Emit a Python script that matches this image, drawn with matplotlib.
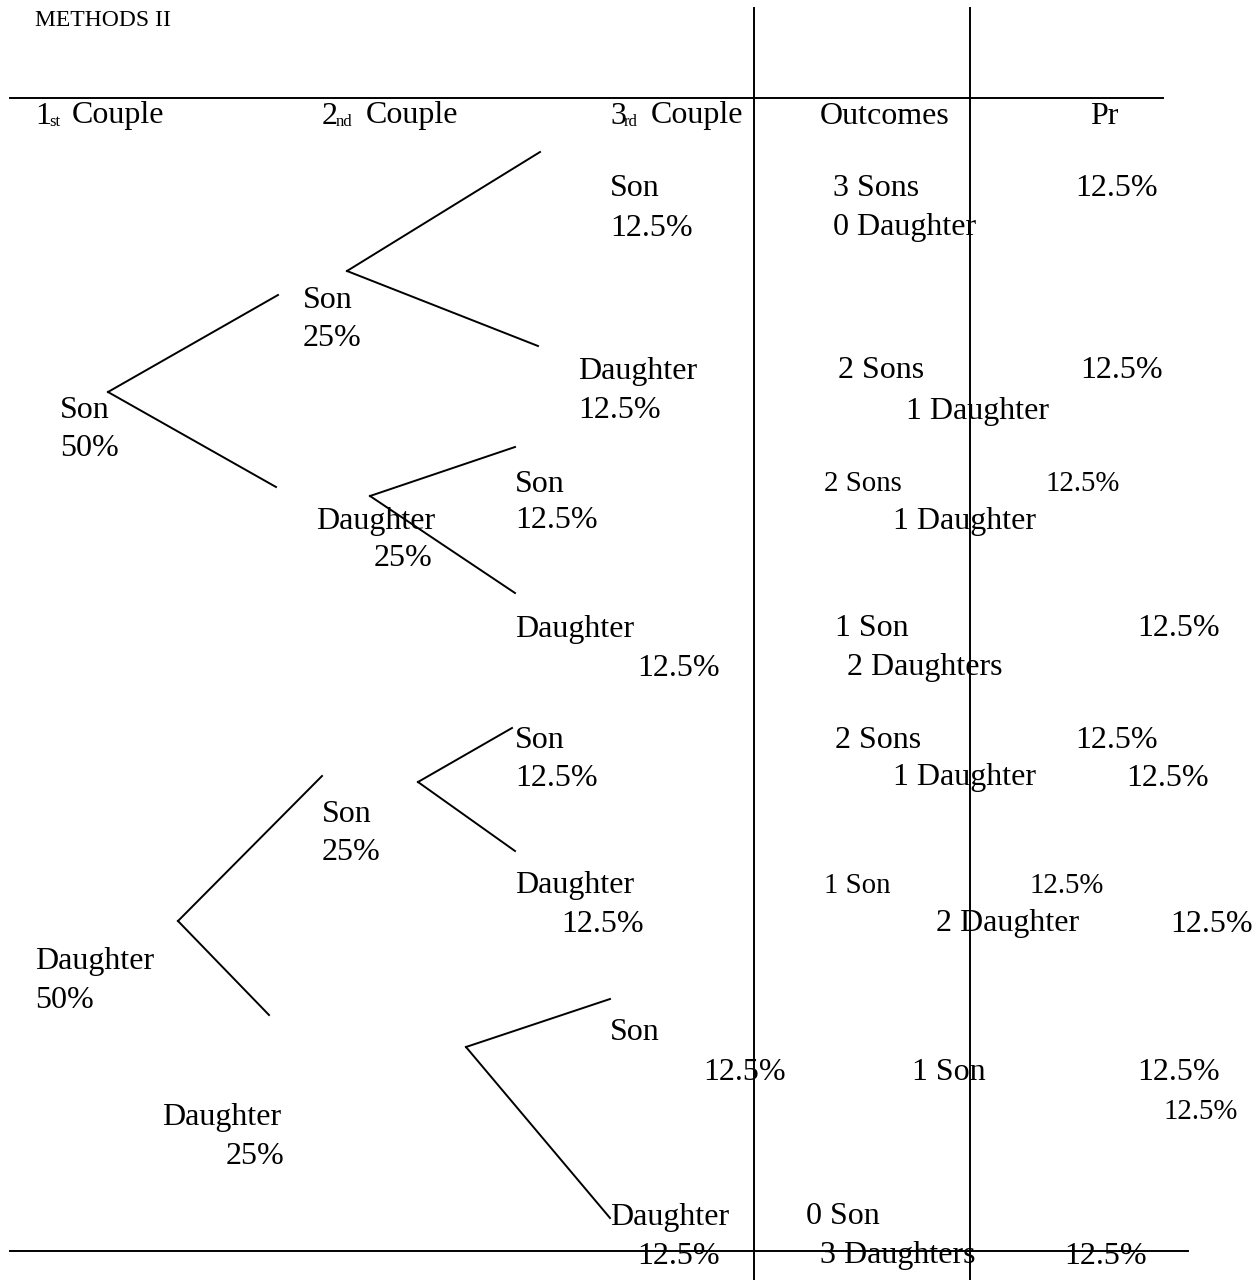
import matplotlib.pyplot as plt

#---------------------------------------------------------------------------------------------
# DATOS DEL DIAGRAMA DE ÁRBOL

titulo = "METHODS II"

encabezados = ["Couple", "Couple", "Couple", "Outcomes", "Pr"]
encabezados_num = ["1", "2", "3"]
encabezados_sup = ["st", "nd", "rd"]

# Primer nivel (1st Couple)
nivel1_etiquetas = ["Son", "Daughter"]
nivel1_prob = ["50%", "50%"]

# Segundo nivel (2nd Couple)
nivel2_etiquetas = ["Son", "Daughter", "Son", "Daughter"]
nivel2_prob = ["25%", "25%", "25%", "25%"]

# Tercer nivel (3rd Couple)
nivel3_etiquetas = ["Son", "Daughter", "Son", "Daughter", "Son", "Daughter", "Son", "Daughter"]
nivel3_prob = ["12.5%"] * 8

# Resultados
resultados_hijos = ["3 Sons", "2 Sons", "2 Sons", "1 Son", "2 Sons", "1 Son", "1 Son", "0 Son"]
resultados_hijas = ["0 Daughter", "1 Daughter", "1 Daughter", "2 Daughters", "1 Daughter",
                    "2 Daughter", None, "3 Daughters"]
probabilidades = ["12.5%", "12.5%", "12.5%", "12.5%", "12.5%", "12.5%", "12.5%", "12.5%"]
prob_extra = ["12.5%", "12.5%", "12.5%"]  # valores repetidos en la columna Pr

#---------------------------------------------------------------------------------------------
# POSICIONES (coordenadas en píxeles de la página)

pos_encabezados = [(72, 113), (366, 113), (651, 113), (820, 113), (1090, 113)]
pos_encabezados_num = [(35, 113), (322, 113), (610, 113)]

pos_nivel1 = [(60, 408, 446, 60), (35, 958, 997, 35)]
pos_nivel2 = [(303, 297, 335, 303), (316, 518, 556, 374),
              (322, 811, 850, 322), (162, 1114, 1153, 226)]
pos_nivel3 = [(610, 186, 225, 610), (578, 368, 408, 578), (515, 481, 518, 515),
              (515, 626, 665, 637), (515, 737, 775, 515), (515, 882, 921, 561),
              (610, 1029, 1070, 703), (610, 1214, 1253, 637)]

pos_hijos = [(833, 186), (838, 368), (824, 481), (835, 626), (835, 737), (824, 883),
             (912, 1070), (806, 1214)]
pos_hijas = [(833, 225), (906, 408), (893, 518), (847, 665), (893, 775), (936, 921),
             None, (820, 1253)]
pos_prob = [(1075, 186), (1080, 368), (1045, 481), (1137, 626), (1075, 737), (1030, 883),
            (1137, 1070), (1064, 1253)]
pos_prob_extra = [(1126, 775), (1170, 921), (1164, 1109)]

pequenos_hijos = [2, 5]   # filas con texto más pequeño
pequenos_prob = [2, 5]

# Ramas: nodo de origen y extremos
ramas = [
    ((108, 392), [(278, 295), (276, 487)]),
    ((347, 271), [(540, 152), (538, 346)]),
    ((370, 496), [(515, 447), (515, 593)]),
    ((178, 921), [(322, 776), (269, 1015)]),
    ((418, 782), [(512, 728), (515, 851)]),
    ((466, 1047), [(610, 999), (610, 1218)]),
]

#---------------------------------------------------------------------------------------------
# DIBUJO

plt.rcParams['font.family'] = ['Liberation Serif', 'DejaVu Serif']

fig = plt.figure(figsize=(12.6, 12.8), dpi=100)
ax = fig.add_axes([0, 0, 1, 1])
ax.set_xlim(0, 1260)
ax.set_ylim(1280, 0)
ax.axis('off')

FS = 23
FS_CH = 20.8
DY = 3  # ajuste vertical del texto

def texto(x, y, s, size=FS):
    ax.text(x, y + DY, s, fontsize=size, ha='left', va='center', color='black')

# Título
texto(35, 18, titulo, size=17)

# Líneas de la tabla
ax.plot([10, 1163], [98, 98], color='black', lw=1.4)
ax.plot([10, 1188], [1251, 1251], color='black', lw=1.4)
ax.plot([754, 754], [8, 1280], color='black', lw=1.4)
ax.plot([970, 970], [8, 1280], color='black', lw=1.4)

# Encabezados
for (x, y), num in zip(pos_encabezados_num, encabezados_num):
    texto(x, y, num)
for (x, y), sup in zip(pos_encabezados_num, encabezados_sup):
    ax.text(x + 14, y + DY + 6, sup, fontsize=12, ha='left', va='center')
for (x, y), enc in zip(pos_encabezados, encabezados):
    texto(x, y, enc)

# Ramas del árbol
for origen, extremos in ramas:
    for fin in extremos:
        ax.plot([origen[0], fin[0]], [origen[1], fin[1]], color='black', lw=1.4)

# Etiquetas de los niveles
for (x, y1, y2, x2), et, pr in zip(pos_nivel1, nivel1_etiquetas, nivel1_prob):
    texto(x, y1, et)
    texto(x2, y2, pr)
for (x, y1, y2, x2), et, pr in zip(pos_nivel2, nivel2_etiquetas, nivel2_prob):
    texto(x, y1, et)
    texto(x2, y2, pr)
for (x, y1, y2, x2), et, pr in zip(pos_nivel3, nivel3_etiquetas, nivel3_prob):
    texto(x, y1, et)
    texto(x2, y2, pr)

# Resultados y probabilidades
for i, (p, s) in enumerate(zip(pos_hijos, resultados_hijos)):
    texto(p[0], p[1], s, size=FS_CH if i in pequenos_hijos else FS)
for p, s in zip(pos_hijas, resultados_hijas):
    if s is not None:
        texto(p[0], p[1], s)
for i, (p, s) in enumerate(zip(pos_prob, probabilidades)):
    texto(p[0], p[1], s, size=FS_CH if i in pequenos_prob else FS)
for i, (p, s) in enumerate(zip(pos_prob_extra, prob_extra)):
    texto(p[0], p[1], s, size=FS_CH if i == 2 else FS)

plt.savefig('out.png', dpi=100)
plt.close(fig)
